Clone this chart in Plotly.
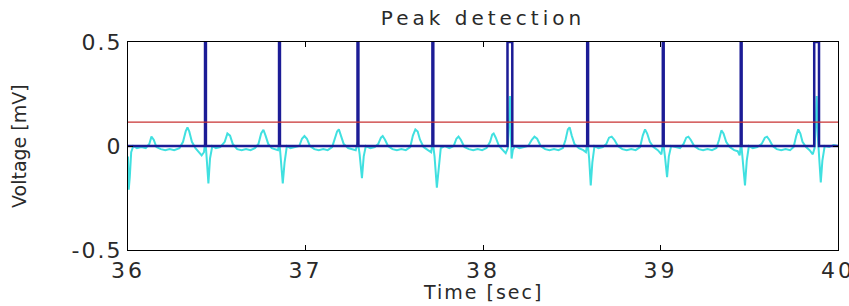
import plotly.graph_objects as go

# ECG signal (time in s, voltage in mV)
ecg_t = [
    36.000, 36.004, 36.010, 36.018, 36.030, 36.050, 36.075, 36.100, 36.120, 36.132,
    36.145, 36.160, 36.185, 36.210, 36.235, 36.260, 36.290, 36.310, 36.325, 36.335,
    36.345, 36.360, 36.380, 36.400, 36.415, 36.428, 36.436, 36.445, 36.453, 36.462,
    36.475, 36.495, 36.520, 36.545, 36.560, 36.575, 36.590, 36.615, 36.640, 36.665,
    36.690, 36.715, 36.735, 36.750, 36.763, 36.775, 36.790, 36.810, 36.830, 36.845,
    36.853, 36.862, 36.872, 36.882, 36.895, 36.915, 36.940, 36.965, 36.980, 36.994,
    37.008, 37.025, 37.050, 37.075, 37.100, 37.125, 37.150, 37.165, 37.178, 37.188,
    37.200, 37.215, 37.240, 37.265, 37.283, 37.295, 37.305, 37.318, 37.328, 37.340,
    37.365, 37.390, 37.410, 37.425, 37.435, 37.448, 37.465, 37.490, 37.515, 37.540,
    37.565, 37.590, 37.605, 37.619, 37.632, 37.645, 37.665, 37.690, 37.708, 37.717,
    37.727, 37.740, 37.750, 37.762, 37.785, 37.810, 37.835, 37.850, 37.862, 37.875,
    37.895, 37.920, 37.945, 37.970, 37.995, 38.020, 38.040, 38.052, 38.060, 38.072,
    38.090, 38.110, 38.128, 38.140, 38.148, 38.152, 38.157, 38.161, 38.168, 38.180,
    38.205, 38.230, 38.255, 38.275, 38.290, 38.305, 38.325, 38.350, 38.375, 38.400,
    38.425, 38.450, 38.465, 38.478, 38.488, 38.500, 38.515, 38.540, 38.565, 38.580,
    38.589, 38.598, 38.607, 38.616, 38.628, 38.650, 38.675, 38.695, 38.710, 38.725,
    38.740, 38.760, 38.785, 38.810, 38.835, 38.860, 38.885, 38.900, 38.913, 38.925,
    38.940, 38.960, 38.985, 39.005, 39.015, 39.025, 39.037, 39.047, 39.060, 39.085,
    39.110, 39.130, 39.145, 39.157, 39.170, 39.190, 39.215, 39.240, 39.265, 39.290,
    39.315, 39.330, 39.343, 39.355, 39.370, 39.390, 39.415, 39.435, 39.446, 39.454,
    39.464, 39.476, 39.486, 39.498, 39.520, 39.545, 39.570, 39.588, 39.600, 39.613,
    39.632, 39.655, 39.680, 39.705, 39.730, 39.750, 39.765, 39.776, 39.788, 39.800,
    39.820, 39.840, 39.858, 39.868, 39.876, 39.880, 39.886, 39.894, 39.903, 39.912,
    39.925, 39.950, 39.975, 40.000,
]
ecg_v = [
    -0.050, -0.210, -0.150, -0.030, 0.000, -0.010, -0.005, -0.010, 0.010, 0.045,
    0.030, -0.005, -0.015, -0.020, -0.015, -0.020, -0.010, 0.020, 0.070, 0.090,
    0.070, 0.020, -0.010, -0.030, -0.045, -0.030, 0.030, -0.080, -0.180, -0.060,
    0.000, -0.010, -0.005, 0.020, 0.060, 0.050, 0.010, -0.015, -0.020, -0.015,
    -0.020, -0.010, 0.010, 0.060, 0.078, 0.050, 0.010, -0.010, -0.015, -0.020,
    0.020, -0.060, -0.180, -0.080, 0.000, -0.010, -0.005, 0.000, 0.035, 0.048,
    0.035, 0.000, -0.015, -0.020, -0.015, -0.020, -0.005, 0.040, 0.070, 0.080,
    0.050, 0.010, -0.010, -0.015, -0.020, 0.020, -0.040, -0.155, -0.050, 0.000,
    -0.010, -0.005, 0.010, 0.040, 0.048, 0.030, 0.000, -0.015, -0.020, -0.015,
    -0.020, -0.005, 0.050, 0.080, 0.070, 0.030, -0.005, -0.020, -0.030, 0.020,
    -0.050, -0.200, -0.100, -0.010, 0.000, -0.010, 0.000, 0.035, 0.045, 0.030,
    -0.005, -0.015, -0.020, -0.015, -0.020, -0.010, 0.020, 0.055, 0.060, 0.040,
    0.000, -0.020, -0.035, -0.010, 0.150, 0.240, 0.050, -0.060, -0.020, 0.000,
    -0.010, -0.005, 0.000, 0.030, 0.045, 0.035, 0.000, -0.015, -0.020, -0.015,
    -0.020, -0.010, 0.030, 0.080, 0.090, 0.050, 0.010, -0.010, -0.020, -0.030,
    0.020, -0.060, -0.190, -0.080, 0.000, -0.010, -0.005, 0.010, 0.040, 0.045,
    0.030, 0.000, -0.015, -0.020, -0.015, -0.020, -0.005, 0.050, 0.080, 0.060,
    0.020, -0.005, -0.020, -0.040, 0.020, -0.050, -0.150, -0.050, 0.000, -0.005,
    -0.010, 0.010, 0.040, 0.045, 0.030, 0.000, -0.015, -0.020, -0.015, -0.020,
    -0.010, 0.030, 0.075, 0.060, 0.020, -0.005, -0.020, -0.025, -0.045, 0.020,
    -0.060, -0.190, -0.070, 0.000, -0.010, -0.005, 0.010, 0.040, 0.045, 0.030,
    0.000, -0.015, -0.020, -0.015, -0.020, -0.005, 0.050, 0.080, 0.060, 0.020,
    -0.005, -0.020, -0.040, -0.010, 0.140, 0.240, 0.050, -0.060, -0.175, -0.070,
    0.000, -0.005, 0.005, 0.000,
]

# detected peaks: start / end of each detection pulse (s)
peak_start = [36.434, 36.851, 37.293, 37.715, 38.138, 38.587, 39.013, 39.452, 39.866]
peak_end = [36.439, 36.856, 37.298, 37.720, 38.165, 38.592, 39.018, 39.457, 39.893]
pulse_height = 0.5

threshold = 0.115

x_ticks = [36, 37, 38, 39, 40]
y_ticks = [-0.5, 0, 0.5]

title_text = "Peak detection"
x_title = "Time [sec]"
y_title = "Voltage [mV]"

# build pulse-train trace from peak lists
pulse_x = [x_ticks[0]]
pulse_y = [0]
for s, e in zip(peak_start, peak_end):
    pulse_x += [s, s, e, e]
    pulse_y += [0, pulse_height, pulse_height, 0]
pulse_x.append(x_ticks[-1])
pulse_y.append(0)


def spaced(txt, px):
    return f'<span style="letter-spacing:{px}px">{txt}</span>'


W, H = 849, 306
L, R, T, B = 128, 11, 42, 56
plot_w = W - L - R
plot_h = H - T - B

fig = go.Figure()
fig.add_trace(go.Scatter(x=ecg_t, y=ecg_v, mode="lines",
                         line=dict(color="#40e0e0", width=2), showlegend=False))
fig.add_trace(go.Scatter(x=pulse_x, y=pulse_y, mode="lines",
                         line=dict(color="#1c1c96", width=2.5), showlegend=False))
fig.add_trace(go.Scatter(x=[x_ticks[0], x_ticks[-1]], y=[threshold, threshold], mode="lines",
                         line=dict(color="#c83232", width=1.3), showlegend=False))

font_fam = "DejaVu Sans, Arial, sans-serif"
fig.update_layout(
    width=W, height=H,
    margin=dict(l=L, r=R, t=T, b=B, autoexpand=False),
    paper_bgcolor="white", plot_bgcolor="white",
    font=dict(family=font_fam, color="#2a2a2a", size=19),
    title=dict(text=spaced(title_text, 4), x=(L + plot_w / 2) / W, xanchor="center",
               y=1 - 18 / H, yanchor="middle", font=dict(size=20)),
    annotations=[
        dict(text=spaced(x_title, 2), xref="paper", yref="paper",
             x=0.5, y=-(292 - (T + plot_h)) / plot_h, xanchor="center", yanchor="middle",
             showarrow=False, font=dict(size=19)),
        dict(text=y_title, xref="paper", yref="paper", textangle=-90,
             x=(19 - L) / plot_w, y=0.5, xanchor="center", yanchor="middle",
             showarrow=False, font=dict(size=19)),
    ],
)
fig.update_xaxes(
    range=[x_ticks[0], x_ticks[-1]], tickvals=x_ticks,
    ticktext=[spaced(str(v), 3) for v in x_ticks],
    ticks="inside", ticklen=5, tickcolor="black", tickwidth=1,
    showline=True, linecolor="black", linewidth=1.3, mirror="ticks",
    showgrid=False, zeroline=False, automargin=False,
    ticklabeloverflow="allow",
    tickfont=dict(size=22),
)
fig.update_yaxes(
    range=[y_ticks[0], y_ticks[-1]], tickvals=y_ticks,
    ticktext=[spaced(f"{v:g}", 2) for v in y_ticks],
    ticks="inside", ticklen=5, tickcolor="black", tickwidth=1,
    showline=True, linecolor="black", linewidth=1.3, mirror="ticks",
    showgrid=False, zeroline=False, automargin=False,
    ticklabeloverflow="allow",
    tickfont=dict(size=22),
)

fig.write_html("out.html", config={"displayModeBar": False},
               post_script="document.body.style.margin='0';document.body.style.overflow='hidden';")
